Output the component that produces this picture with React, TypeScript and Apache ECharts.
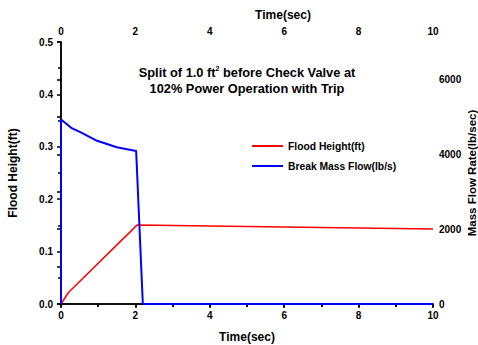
import React, { useEffect, useRef } from "react";
import * as echarts from "echarts";

const floodTime = [0, 0.2, 2.05, 4, 6, 8, 10];
const floodHeight = [0, 0.022, 0.151, 0.149, 0.147, 0.145, 0.143];

const flowTime = [0, 0, 0.3, 0.52, 0.97, 1.5, 2.02, 2.2, 10];
const flowValues = [0, 4930, 4690, 4590, 4360, 4190, 4090, 0, 0];

const titleLine1 = ["Split of 1.0 ft", "2", " before Check Valve at"];
const titleLine2 = "102% Power Operation with Trip";
const seriesNames = ["Flood Height(ft)", "Break Mass Flow(lb/s)"];
const rightAxisName = "Mass Flow Rate(lb/sec)";

const FONT = "Liberation Sans";

export default function App() {
  const ref = useRef<HTMLDivElement>(null);
  useEffect(() => {
    if (!ref.current) return;
    const chart = echarts.init(ref.current, undefined, { renderer: "svg" });
    const axisLine = { show: true, lineStyle: { color: "#000", width: 1.5 } };
    const labelStyle = { color: "#000", fontFamily: FONT, fontWeight: "bold", fontSize: 10 };
    const nameStyle = { color: "#000", fontFamily: FONT, fontWeight: "bold", fontSize: 12 };
    const tStyle = { color: "#000", fontFamily: FONT, fontWeight: "bold", fontSize: 12.8, lineHeight: 16 };
    chart.setOption({
      animation: false,
      backgroundColor: "#fff",
      title: {
        text: `{t|${titleLine1[0]}}{sup|${titleLine1[1]}}{t|${titleLine1[2]}}\n{t|${titleLine2}}`,
        left: 247,
        top: 64,
        padding: 0,
        textAlign: "center",
        textStyle: {
          ...tStyle,
          rich: {
            t: tStyle,
            sup: { color: "#000", fontFamily: FONT, fontWeight: "bold", fontSize: 7, padding: [0, 0, 8, 0] },
          },
        },
      },
      graphic: [
        {
          type: "text",
          x: 471.5,
          y: 173,
          rotation: Math.PI / 2,
          style: {
            text: rightAxisName,
            fill: "#000",
            font: `bold 11.5px ${FONT}`,
            textAlign: "center",
            textVerticalAlign: "middle",
          },
        },
      ],
      legend: {
        orient: "vertical",
        left: 252,
        top: 141,
        padding: 0,
        icon: "rect",
        itemWidth: 31,
        itemHeight: 2,
        itemGap: 10,
        textStyle: { color: "#000", fontFamily: FONT, fontWeight: "bold", fontSize: 10.3 },
        data: seriesNames,
      },
      grid: { left: 61, right: 45, top: 42, bottom: 41, outerBoundsMode: "none", containLabel: false },
      xAxis: [
        {
          type: "value",
          position: "bottom",
          min: 0,
          max: 10,
          interval: 2,
          name: "Time(sec)",
          nameLocation: "middle",
          nameGap: 27,
          nameTextStyle: nameStyle,
          axisLine,
          axisTick: { show: true, inside: false, length: 3, lineStyle: { color: "#000", width: 1.5 } },
          minorTick: { show: true, splitNumber: 2, length: 3, lineStyle: { color: "#000", width: 1.5 } },
          axisLabel: { ...labelStyle, margin: 6 },
          splitLine: { show: false },
        },
        {
          type: "value",
          position: "top",
          min: 0,
          max: 10,
          interval: 2,
          name: "Time(sec)",
          nameLocation: "middle",
          nameGap: 21,
          nameTextStyle: { ...nameStyle, padding: [0, 0, 0, 72] },
          axisLine,
          axisTick: { show: true, inside: true, length: 4, lineStyle: { color: "#000", width: 1.5 } },
          minorTick: { show: true, splitNumber: 2, length: 3, lineStyle: { color: "#000", width: 1.5 } },
          axisLabel: { ...labelStyle, margin: 6 },
          splitLine: { show: false },
        },
      ],
      yAxis: [
        {
          type: "value",
          position: "left",
          min: 0,
          max: 0.5,
          interval: 0.1,
          name: "Flood Height(ft)",
          nameLocation: "middle",
          nameRotate: 90,
          nameGap: 42,
          nameTextStyle: nameStyle,
          axisLine,
          axisTick: { show: true, inside: false, length: 4, lineStyle: { color: "#000", width: 1.5 } },
          minorTick: { show: true, splitNumber: 2, length: 3, lineStyle: { color: "#000", width: 1.5 } },
          axisLabel: { ...labelStyle, margin: 8, formatter: (v: number) => v.toFixed(1) },
          splitLine: { show: false },
        },
        {
          type: "value",
          position: "right",
          min: 0,
          max: 7000,
          interval: 1000,
          axisLine,
          axisTick: { show: true, inside: true, length: 4, lineStyle: { color: "#000", width: 1.5 } },
          axisLabel: {
            ...labelStyle,
            margin: 6,
            formatter: (v: number) => (v % 2000 === 0 ? String(v) : ""),
          },
          splitLine: { show: false },
        },
      ],
      series: [
        {
          name: seriesNames[0],
          type: "line",
          xAxisIndex: 0,
          yAxisIndex: 0,
          symbol: "none",
          data: floodTime.map((t, i) => [t, floodHeight[i]]),
          lineStyle: { color: "#ff0000", width: 1.5 },
          itemStyle: { color: "#ff0000" },
          z: 3,
        },
        {
          name: seriesNames[1],
          type: "line",
          xAxisIndex: 0,
          yAxisIndex: 1,
          symbol: "none",
          data: flowTime.map((t, i) => [t, flowValues[i]]),
          lineStyle: { color: "#0000ff", width: 2 },
          itemStyle: { color: "#0000ff" },
          z: 4,
        },
      ],
    });
    return () => chart.dispose();
  }, []);
  return <div ref={ref} style={{ position: "fixed", left: 0, top: 0, width: 478, height: 345 }} />;
}
